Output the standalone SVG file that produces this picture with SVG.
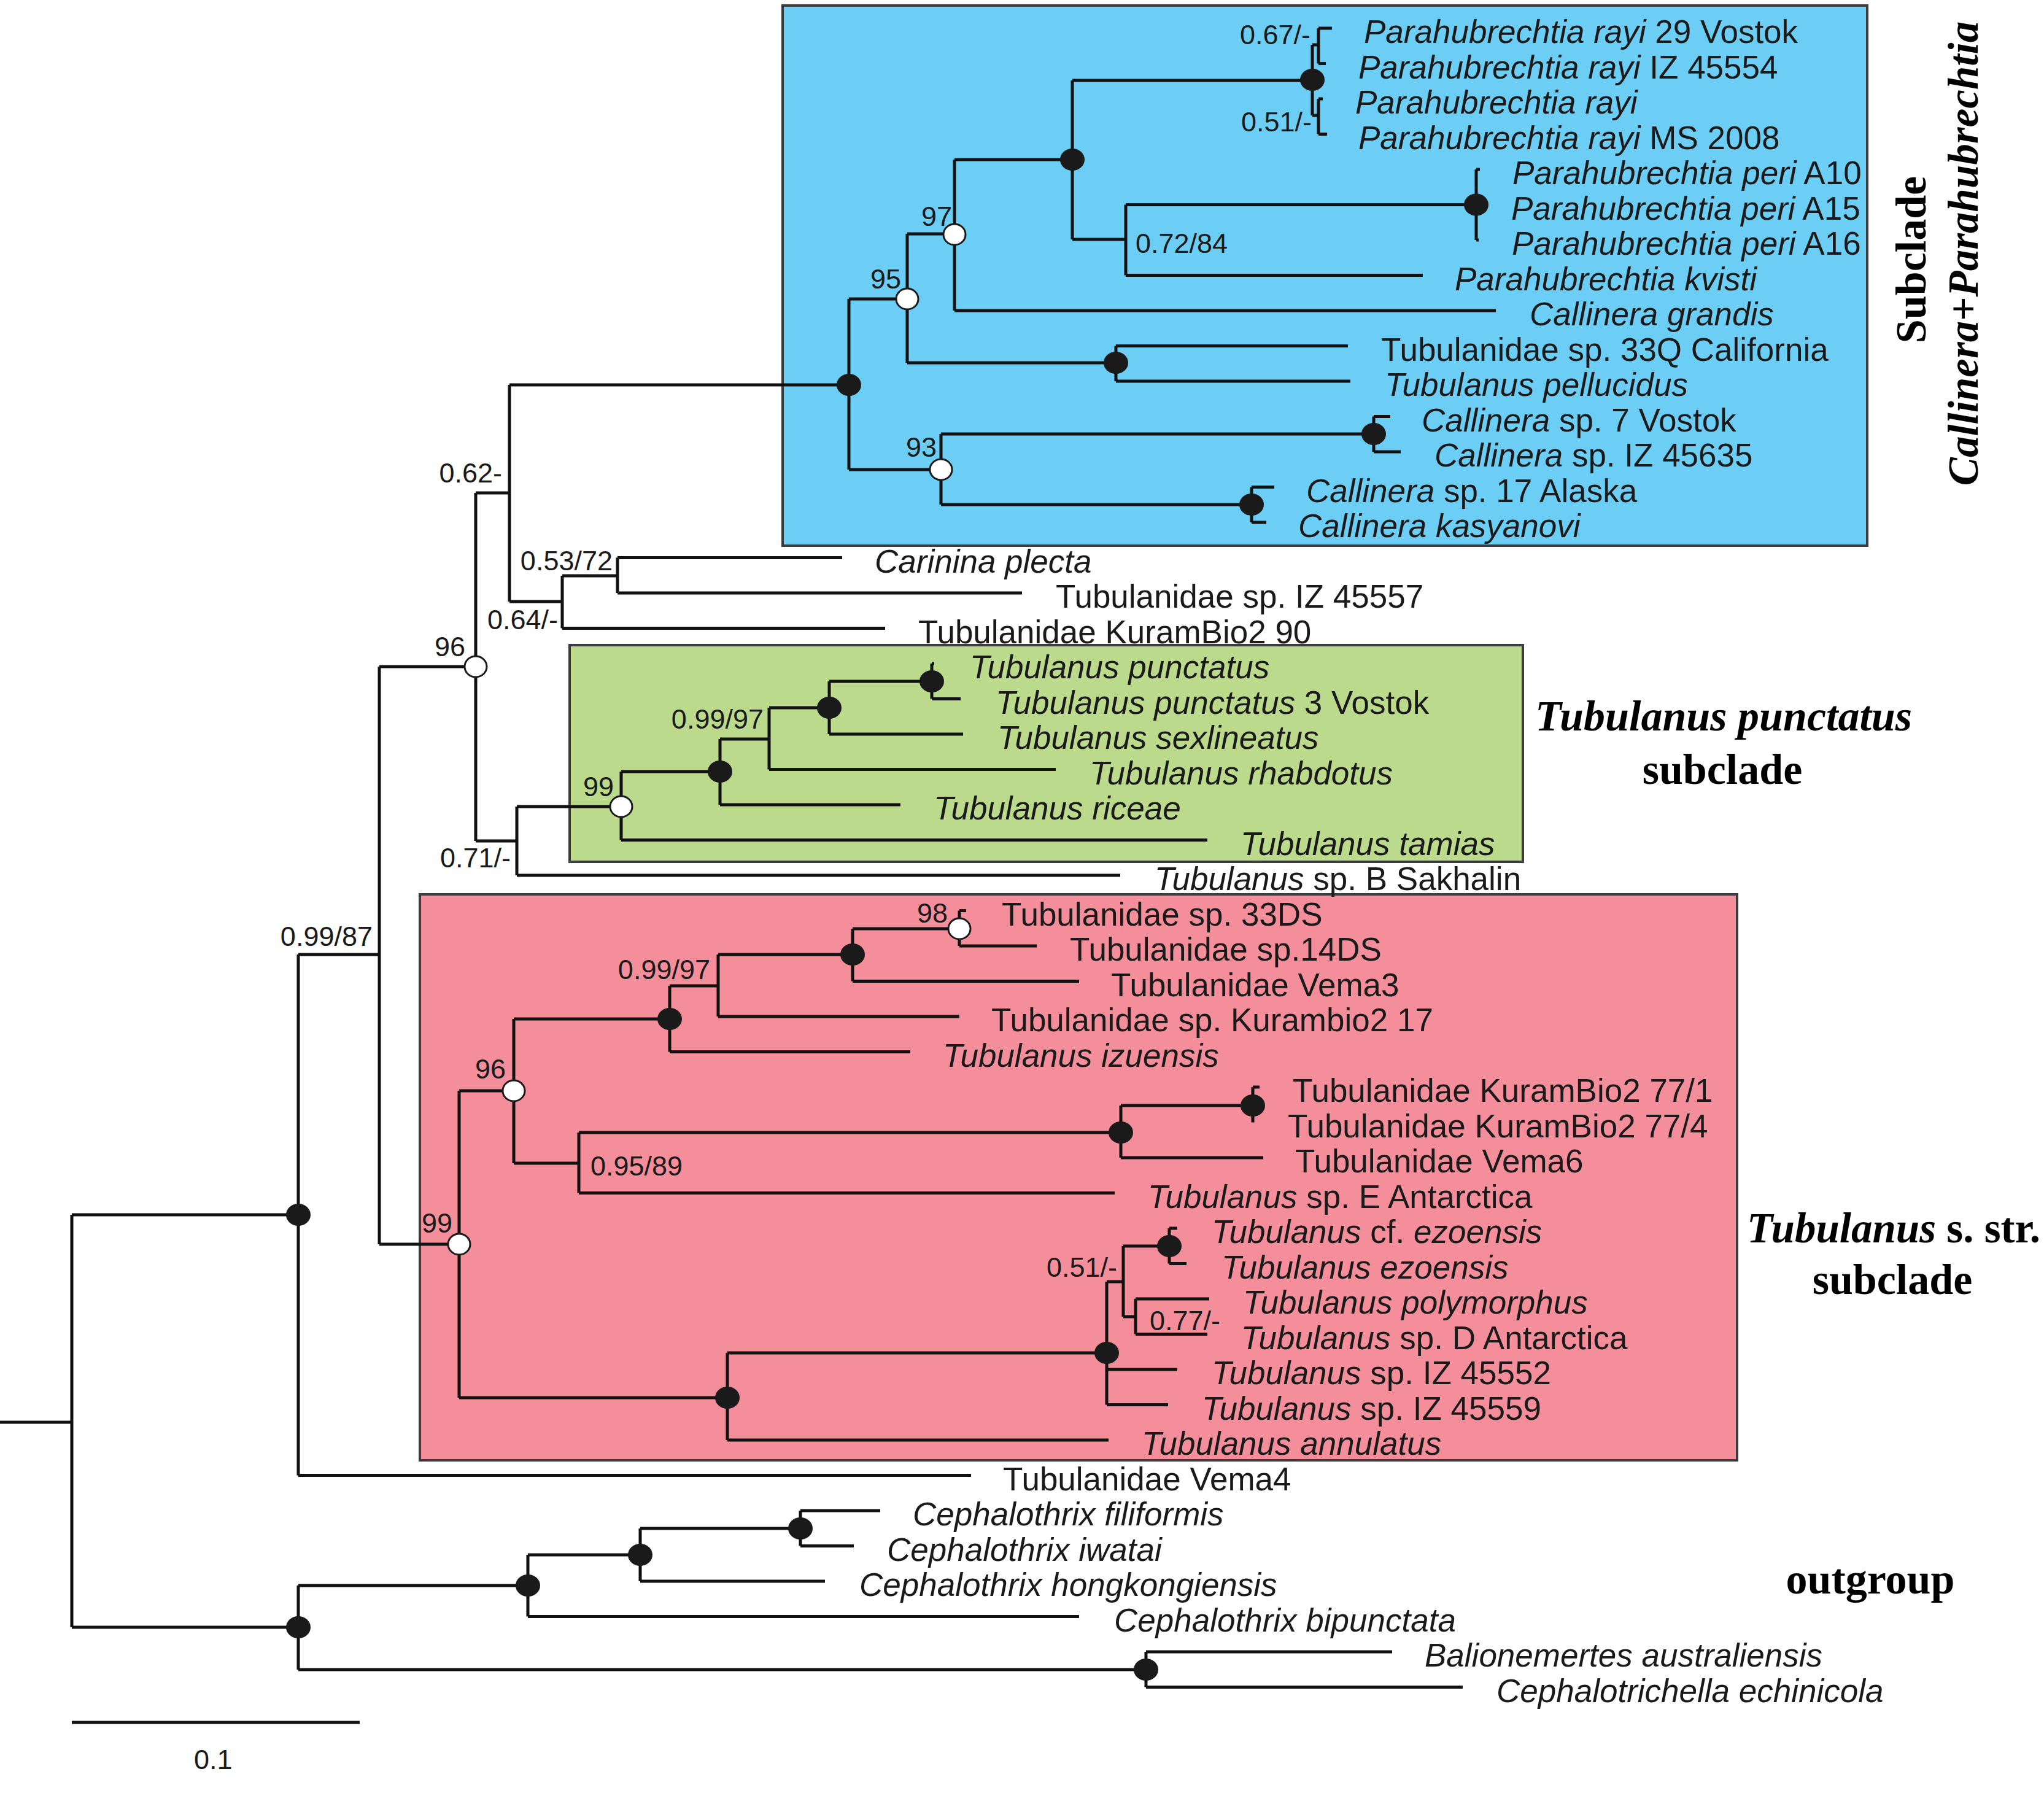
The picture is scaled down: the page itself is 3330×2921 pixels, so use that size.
<svg xmlns="http://www.w3.org/2000/svg" width="3330" height="2921" viewBox="0 0 3330 2921">
<style>
.box{stroke:#3c3c3c;stroke-width:4}
.br{stroke:#111;stroke-width:5;fill:none;stroke-linejoin:miter;stroke-linecap:butt}
.nb{fill:#1a1a1a}
.nw{fill:#fff;stroke:#1a1a1a;stroke-width:3}
text{font-family:"Liberation Sans",Arial,sans-serif;fill:#1a1a1a}
.tx{font-size:53px}
.sp{font-size:45px}
.i{font-style:italic}
.cl{font-family:"Liberation Serif","Times New Roman",serif;font-weight:bold;font-size:70px;fill:#000}
</style>
<rect width="3330" height="2921" fill="#fff"/>
<g id="clade-boxes">
<rect id="box-callinera" class="box" x="1275" y="9" width="1767" height="880" fill="#6dcef5"/>
<rect id="box-punctatus" class="box" x="928" y="1051" width="1553" height="353" fill="#bbda8c"/>
<rect id="box-sstr" class="box" x="684" y="1457" width="2146" height="922" fill="#f48e9a"/>
</g>
<g id="connectors" class="br">
<path d="M0 2317H117M117 1979V2651M117 1979H486M486 1555V2403.5M486 2403.5H1582"/>
<path d="M486 1555H618M618 1086V2027M618 1086H775M775 803V1370M775 803H830M830 627V980"/>
<path d="M830 627H1383M1383 487V765M1383 487H1478M1478 381V591M1478 381H1555M1555 260V506M1555 260H1747M1747 131V390"/>
<path d="M1747 131H2138M2138 73V188M2138 73H2148M2148 46V103.5M2148 46H2170M2148 103.5H2160M2138 188H2148M2148 161V218.5M2148 161H2155M2148 218.5H2162"/>
<path d="M1747 390H1834M1834 333.5V448.5M1834 333.5H2405M2405 276V391M2405 276H2411M2405 391H2409M1834 448.5H2318M1555 506H2437"/>
<path d="M1478 591H1818M1818 563.5V621M1818 563.5H2196M1818 621H2200"/>
<path d="M1383 765H1533M1533 707V822M1533 707H2238M2238 678.5V736M2238 678.5H2265M2238 736H2282M1533 822H2039M2039 793.5V851M2039 793.5H2076M2039 851H2063"/>
<path d="M830 980H916M916 938V1023.5M916 938H1006M1006 908.5V966M1006 908.5H1372M1006 966H1665M916 1023.5H1442"/>
<path d="M775 1370H842M842 1314V1426M842 1426H1825M842 1314H1012M1012 1257V1368.5M1012 1368.5H1967M1012 1257H1173M1173 1204V1311M1173 1311H1467"/>
<path d="M1173 1204H1253M1253 1153V1253.5M1253 1253.5H1720M1253 1153H1351M1351 1110V1196M1351 1196H1569M1351 1110H1518M1518 1081V1138.5M1518 1081H1522M1518 1138.5H1565"/>
<path d="M618 2027H748M748 1777V2277M748 1777H837M837 1660V1895M837 1660H1091M1091 1606V1713.5M1091 1713.5H1483M1091 1606H1170M1170 1555V1656M1170 1656H1563"/>
<path d="M1170 1555H1389M1389 1513V1598.5M1389 1598.5H1758M1389 1513H1563M1563 1483.5V1541M1563 1483.5H1574M1563 1541H1689"/>
<path d="M837 1895H943M943 1845V1943.5M943 1943.5H1816M943 1845H1826M1826 1801V1886M1826 1886H2058M1826 1801H2041M2041 1771V1828.5M2041 1771H2052"/>
<path d="M748 2277H1185M1185 2204V2346M1185 2346H1806M1185 2204H1803M1803 2088V2288.5M1803 2231H1918M1803 2288.5H1903"/>
<path d="M1803 2088H1830M1830 2030V2145M1830 2030H1905M1905 2001V2058.5M1905 2001H1918M1905 2058.5H1933M1830 2145H1850M1850 2116V2173.5M1850 2116H1970M1850 2173.5H1967"/>
<path d="M117 2651H486M486 2583V2720M486 2583H860M860 2533V2633.5M860 2633.5H1758M860 2533H1043M1043 2490V2576M1043 2576H1344M1043 2490H1304M1304 2461V2518.5M1304 2461H1434M1304 2518.5H1391"/>
<path d="M486 2720H1867M1867 2691V2748.5M1867 2691H2268M1867 2748.5H2383"/>
<path id="scale-bar" d="M117 2806H586"/>
</g>
<g id="support-nodes">
<g id="n-ingroup"><ellipse class="nb" cx="486" cy="1979" rx="20" ry="18"/></g>
<g id="n-outgroup"><ellipse class="nb" cx="486" cy="2651" rx="20" ry="18"/></g>
<g id="n-ceph1"><ellipse class="nb" cx="860" cy="2583" rx="20" ry="18"/></g>
<g id="n-ceph2"><ellipse class="nb" cx="1043" cy="2533" rx="20" ry="18"/></g>
<g id="n-ceph3"><ellipse class="nb" cx="1304" cy="2490" rx="20" ry="18"/></g>
<g id="n-balion"><ellipse class="nb" cx="1867" cy="2720" rx="20" ry="18"/></g>
<g id="n-cp"><ellipse class="nb" cx="1383" cy="627" rx="20" ry="18"/></g>
<g id="n-95"><ellipse class="nw" cx="1478" cy="487" rx="18" ry="17"/></g>
<g id="n-97"><ellipse class="nw" cx="1555" cy="382" rx="18" ry="17"/></g>
<g id="n-para"><ellipse class="nb" cx="1747" cy="260" rx="20" ry="18"/></g>
<g id="n-rayi"><ellipse class="nb" cx="2138" cy="130" rx="20" ry="18"/></g>
<g id="n-peri"><ellipse class="nb" cx="2405" cy="333.5" rx="20" ry="18"/></g>
<g id="n-33q"><ellipse class="nb" cx="1818" cy="591" rx="20" ry="18"/></g>
<g id="n-93"><ellipse class="nw" cx="1533" cy="765" rx="18" ry="17"/></g>
<g id="n-c7"><ellipse class="nb" cx="2238" cy="707" rx="20" ry="18"/></g>
<g id="n-c17"><ellipse class="nb" cx="2039" cy="822" rx="20" ry="18"/></g>
<g id="n-96a"><ellipse class="nw" cx="775" cy="1086" rx="18" ry="17"/></g>
<g id="n-99a"><ellipse class="nw" cx="1012" cy="1314" rx="18" ry="17"/></g>
<g id="n-tp1"><ellipse class="nb" cx="1173" cy="1257" rx="20" ry="18"/></g>
<g id="n-tp2"><ellipse class="nb" cx="1351" cy="1153" rx="20" ry="18"/></g>
<g id="n-tp3"><ellipse class="nb" cx="1518" cy="1110" rx="20" ry="18"/></g>
<g id="n-99b"><ellipse class="nw" cx="748" cy="2027" rx="18" ry="17"/></g>
<g id="n-96b"><ellipse class="nw" cx="837" cy="1777" rx="18" ry="17"/></g>
<g id="n-ts1"><ellipse class="nb" cx="1091" cy="1660" rx="20" ry="18"/></g>
<g id="n-ts2"><ellipse class="nb" cx="1389" cy="1555" rx="20" ry="18"/></g>
<g id="n-98"><ellipse class="nw" cx="1563" cy="1513" rx="18" ry="17"/></g>
<g id="n-ts3"><ellipse class="nb" cx="1826" cy="1845" rx="20" ry="18"/></g>
<g id="n-ts4"><ellipse class="nb" cx="2041" cy="1801" rx="20" ry="18"/></g>
<g id="n-ts5"><ellipse class="nb" cx="1185" cy="2277" rx="20" ry="18"/></g>
<g id="n-ts6"><ellipse class="nb" cx="1803" cy="2204" rx="20" ry="18"/></g>
<g id="n-ts7"><ellipse class="nb" cx="1905" cy="2030" rx="20" ry="18"/></g>
</g>
<g id="support-labels" class="sp">
<text x="2135" y="72" text-anchor="end">0.67/-</text>
<text x="2137" y="214" text-anchor="end">0.51/-</text>
<text x="1850" y="412">0.72/84</text>
<text x="1551" y="368" text-anchor="end">97</text>
<text x="1468" y="470" text-anchor="end">95</text>
<text x="1526" y="744" text-anchor="end">93</text>
<text x="818" y="786" text-anchor="end">0.62-</text>
<text x="998" y="929" text-anchor="end">0.53/72</text>
<text x="909" y="1025" text-anchor="end">0.64/-</text>
<text x="758" y="1069" text-anchor="end">96</text>
<text x="1244" y="1187" text-anchor="end">0.99/97</text>
<text x="1000" y="1297" text-anchor="end">99</text>
<text x="832" y="1413" text-anchor="end">0.71/-</text>
<text x="1544" y="1503" text-anchor="end">98</text>
<text x="607" y="1541" text-anchor="end">0.99/87</text>
<text x="1157" y="1595" text-anchor="end">0.99/97</text>
<text x="824" y="1757" text-anchor="end">96</text>
<text x="962" y="1915">0.95/89</text>
<text x="737" y="2008" text-anchor="end">99</text>
<text x="1820" y="2080" text-anchor="end">0.51/-</text>
<text x="1873" y="2167">0.77/-</text>
<text x="316" y="2882">0.1</text>
</g>
<g id="taxa" class="tx" transform="translate(0,2)">
<g id="t01"><text x="2222" y="68"><tspan class="i">Parahubrechtia rayi</tspan> 29 Vostok</text></g>
<g id="t02"><text x="2213" y="125.5"><tspan class="i">Parahubrechtia rayi</tspan> IZ 45554</text></g>
<g id="t03"><text x="2208" y="183" class="i">Parahubrechtia rayi</text></g>
<g id="t04"><text x="2213" y="240.5"><tspan class="i">Parahubrechtia rayi</tspan> MS 2008</text></g>
<g id="t05"><text x="2464" y="298"><tspan class="i">Parahubrechtia peri</tspan> A10</text></g>
<g id="t06"><text x="2462" y="355.5"><tspan class="i">Parahubrechtia peri</tspan> A15</text></g>
<g id="t07"><text x="2463" y="413"><tspan class="i">Parahubrechtia peri</tspan> A16</text></g>
<g id="t08"><text x="2370" y="470.5" class="i">Parahubrechtia kvisti</text></g>
<g id="t09"><text x="2492" y="528" class="i">Callinera grandis</text></g>
<g id="t10"><text x="2250" y="585.5">Tubulanidae sp. 33Q California</text></g>
<g id="t11"><text x="2256" y="643" class="i">Tubulanus pellucidus</text></g>
<g id="t12"><text x="2316" y="700.5"><tspan class="i">Callinera</tspan> sp. 7 Vostok</text></g>
<g id="t13"><text x="2337" y="758"><tspan class="i">Callinera</tspan> sp. IZ 45635</text></g>
<g id="t14"><text x="2128" y="815.5"><tspan class="i">Callinera</tspan> sp. 17 Alaska</text></g>
<g id="t15"><text x="2115" y="873" class="i">Callinera kasyanovi</text></g>
<g id="t16"><text x="1425" y="930.5" class="i">Carinina plecta</text></g>
<g id="t17"><text x="1720" y="988">Tubulanidae sp. IZ 45557</text></g>
<g id="t18"><text x="1496" y="1045.5">Tubulanidae KuramBio2 90</text></g>
<g id="t19"><text x="1580" y="1103" class="i">Tubulanus punctatus</text></g>
<g id="t20"><text x="1622" y="1160.5"><tspan class="i">Tubulanus punctatus</tspan> 3 Vostok</text></g>
<g id="t21"><text x="1625" y="1218" class="i">Tubulanus sexlineatus</text></g>
<g id="t22"><text x="1775" y="1275.5" class="i">Tubulanus rhabdotus</text></g>
<g id="t23"><text x="1521" y="1333" class="i">Tubulanus riceae</text></g>
<g id="t24"><text x="2021" y="1390.5" class="i">Tubulanus tamias</text></g>
<g id="t25"><text x="1881" y="1448"><tspan class="i">Tubulanus</tspan> sp. B Sakhalin</text></g>
<g id="t26"><text x="1632" y="1505.5">Tubulanidae sp. 33DS</text></g>
<g id="t27"><text x="1743" y="1563">Tubulanidae sp.14DS</text></g>
<g id="t28"><text x="1810" y="1620.5">Tubulanidae Vema3</text></g>
<g id="t29"><text x="1615" y="1678">Tubulanidae sp. Kurambio2 17</text></g>
<g id="t30"><text x="1536" y="1735.5" class="i">Tubulanus izuensis</text></g>
<g id="t31"><text x="2106" y="1793">Tubulanidae KuramBio2 77/1</text></g>
<g id="t32"><text x="2098" y="1850.5">Tubulanidae KuramBio2 77/4</text></g>
<g id="t33"><text x="2110" y="1908">Tubulanidae Vema6</text></g>
<g id="t34"><text x="1870" y="1965.5"><tspan class="i">Tubulanus</tspan> sp. E Antarctica</text></g>
<g id="t35"><text x="1974" y="2023"><tspan class="i">Tubulanus</tspan> cf. <tspan class="i">ezoensis</tspan></text></g>
<g id="t36"><text x="1990" y="2080.5" class="i">Tubulanus ezoensis</text></g>
<g id="t37"><text x="2025" y="2138" class="i">Tubulanus polymorphus</text></g>
<g id="t38"><text x="2022" y="2195.5"><tspan class="i">Tubulanus</tspan> sp. D Antarctica</text></g>
<g id="t39"><text x="1974" y="2253"><tspan class="i">Tubulanus</tspan> sp. IZ 45552</text></g>
<g id="t40"><text x="1958" y="2310.5"><tspan class="i">Tubulanus</tspan> sp. IZ 45559</text></g>
<g id="t41"><text x="1860" y="2368" class="i">Tubulanus annulatus</text></g>
<g id="t42"><text x="1634" y="2425.5">Tubulanidae Vema4</text></g>
<g id="t43"><text x="1487" y="2483" class="i">Cephalothrix filiformis</text></g>
<g id="t44"><text x="1445" y="2540.5" class="i">Cephalothrix iwatai</text></g>
<g id="t45"><text x="1400" y="2598" class="i">Cephalothrix hongkongiensis</text></g>
<g id="t46"><text x="1815" y="2655.5" class="i">Cephalothrix bipunctata</text></g>
<g id="t47"><text x="2321" y="2713" class="i">Balionemertes australiensis</text></g>
<g id="t48"><text x="2438" y="2770.5" class="i">Cephalotrichella echinicola</text></g>
</g>
<g id="clade-labels">
<g id="lab-callinera">
<text class="cl" transform="translate(3137,423) rotate(-90)" text-anchor="middle">Subclade</text>
<text class="cl" style="font-size:69px" transform="translate(3222,413) rotate(-90)" text-anchor="middle"><tspan class="i">Callinera</tspan>+<tspan class="i">Parahubrechtia</tspan></text>
</g>
<g id="lab-punctatus">
<text class="cl i" x="2808" y="1190" text-anchor="middle">Tubulanus punctatus</text>
<text class="cl" x="2806" y="1277" text-anchor="middle">subclade</text>
</g>
<g id="lab-sstr">
<text class="cl" style="font-size:69px" x="3085" y="2024" text-anchor="middle"><tspan class="i">Tubulanus</tspan> s. str.</text>
<text class="cl" x="3083" y="2108" text-anchor="middle">subclade</text>
</g>
<g id="lab-outgroup"><text class="cl" x="3047" y="2596" text-anchor="middle">outgroup</text></g>
</g>
</svg>
